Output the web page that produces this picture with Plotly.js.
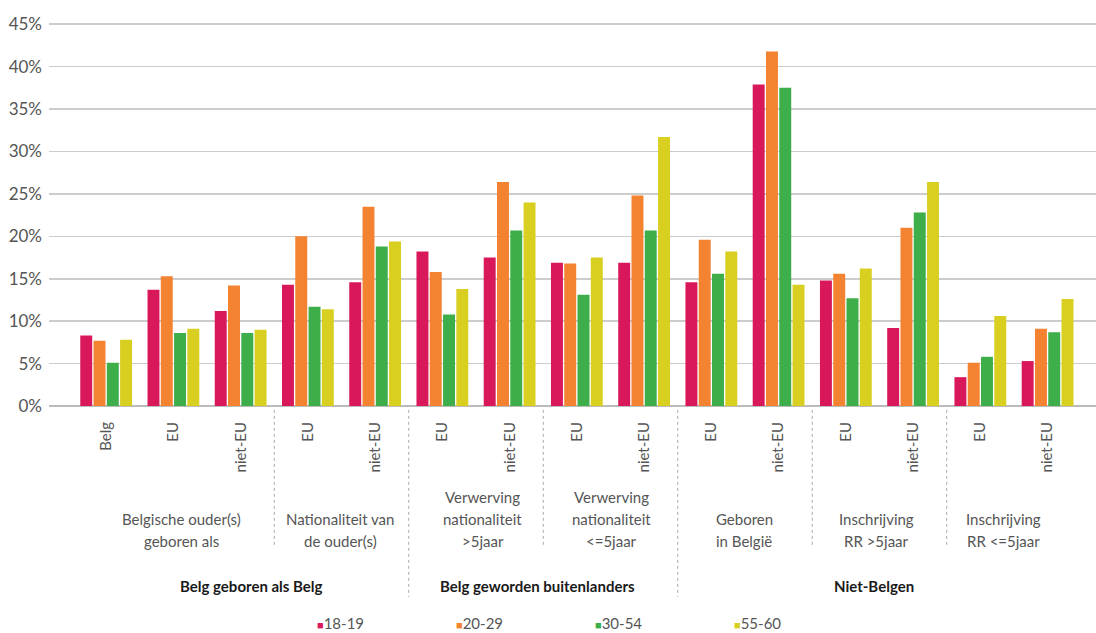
<!DOCTYPE html>
<html>
<head>
<meta charset="utf-8">
<script src="https://cdn.plot.ly/plotly-3.0.1.min.js"></script>
<style>html,body{margin:0;padding:0;background:#fff;}#chart{width:1096px;height:633px;}</style>
</head>
<body>
<div id="chart"></div>
<script>
// Sub-category (tick) labels, one per bar group
var subLabels = ['Belg','EU','niet-EU','EU','niet-EU','EU','niet-EU','EU','niet-EU','EU','niet-EU','EU','niet-EU','EU','niet-EU'];

// Series values (%)
var ageGroups = ['18-19','20-29','30-54','55-60'];
var s1819 = [8.3, 13.7, 11.2, 14.3, 14.6, 18.2, 17.5, 16.9, 16.9, 14.6, 37.9, 14.8, 9.2, 3.4, 5.3];
var s2029 = [7.7, 15.3, 14.2, 20.0, 23.5, 15.8, 26.4, 16.8, 24.8, 19.6, 41.8, 15.6, 21.0, 5.1, 9.1];
var s3054 = [5.1, 8.6, 8.6, 11.7, 18.8, 10.8, 20.7, 13.1, 20.7, 15.6, 37.5, 12.7, 22.8, 5.8, 8.7];
var s5560 = [7.8, 9.1, 9.0, 11.4, 19.4, 13.8, 24.0, 17.5, 31.7, 18.2, 14.3, 16.2, 26.4, 10.6, 12.6];

// Second-level labels
var midLabels = ['Belgische ouder(s)<br>geboren als','Nationaliteit van<br>de ouder(s)','Verwerving<br>nationaliteit<br>>5jaar','Verwerving<br>nationaliteit<br><=5jaar','Geboren<br>in België','Inschrijving<br>RR >5jaar','Inschrijving<br>RR <=5jaar'];
var midPos = [1.12, 3.48, 5.6, 7.52, 9.49, 11.46, 13.35];

// Top-level labels
var topLabels = ['Belg geboren als Belg','Belg geworden buitenlanders','Niet-Belgen'];
var topPos = [2.16, 6.41, 11.42];

// Separators (between groups)
var minorSeps = [2.5, 6.5, 10.5, 12.5];
var majorSeps = [4.5, 8.5];

var colors = ['#D9185C','#F38231','#3DAE49','#D8CF20'];
var series = [s1819, s2029, s3054, s5560];
var xs = subLabels.map(function(_, i){ return i; });

var traces = series.map(function(vals, k){
  return {
    type: 'bar',
    x: xs,
    y: vals,
    name: ageGroups[k],
    marker: {color: colors[k]},
    hoverinfo: 'y+name'
  };
});

var shapes = [];
minorSeps.forEach(function(p){
  shapes.push({type:'line', xref:'x', yref:'paper', x0:p, x1:p, y0:-0.01, y1:-0.36,
    line:{color:'#aaaaaa', width:1, dash:'dot'}});
});
majorSeps.forEach(function(p){
  shapes.push({type:'line', xref:'x', yref:'paper', x0:p, x1:p, y0:-0.01, y1:-0.495,
    line:{color:'#aaaaaa', width:1, dash:'dot'}});
});

var annotations = [];
// second-level labels, one annotation per line, bottom line aligned
var lineY = [-0.3497, -0.2927, -0.2358];
midLabels.forEach(function(t, i){
  var lines = t.split('<br>');
  lines.forEach(function(ln, j){
    var fromBottom = lines.length - 1 - j;
    annotations.push({text:ln, x:midPos[i], xref:'x', y:lineY[fromBottom], yref:'paper',
      xanchor:'center', yanchor:'middle', showarrow:false,
      font:{family:'Lato, sans-serif', size:15, color:'#555555'}});
  });
});
topLabels.forEach(function(t, i){
  annotations.push({text:'<b>'+t+'</b>', x:topPos[i], xref:'x', y:-0.466, yref:'paper',
    xanchor:'center', yanchor:'middle', showarrow:false,
    font:{family:'Lato, sans-serif', size:15, color:'#1a1a1a'}});
});
// legend
ageGroups.forEach(function(g, k){
  annotations.push({
    text:'<span style="color:' + colors[k] + ';font-size:11px">■</span>' + g,
    x: 0.255 + k*0.1328, xref:'paper', y:-0.5622, yref:'paper',
    xanchor:'left', yanchor:'middle', showarrow:false, borderpad:0,
    font:{family:'Lato, sans-serif', size:15, color:'#555555'}});
});

var layout = {
  width: 1096, height: 633,
  margin: {l:49, r:0, t:20, b:227, autoexpand:false},
  paper_bgcolor: '#ffffff', plot_bgcolor: '#ffffff',
  barmode: 'group', bargap: 0.21, bargroupgap: 0.1,
  font: {family:'Lato, sans-serif', color:'#555555'},
  xaxis: {
    range: [-0.85, 14.72], tickmode:'array', tickvals: xs, ticktext: subLabels,
    tickangle: -90, showgrid:false, zeroline:false, showline:false, ticks:'',
    ticklabelstandoff: 12, automargin:false,
    tickfont: {family:'Lato, sans-serif', size:15, color:'#555555'}
  },
  yaxis: {
    range: [0, 45.5], tickmode:'linear', tick0:0, dtick:5, ticksuffix:'%',
    showgrid:true, gridcolor:'#cccccc', gridwidth:1.5,
    zeroline:true, zerolinecolor:'#bbbbbb', zerolinewidth:1.5,
    showline:false, ticks:'', ticklabelstandoff: 6, automargin:false,
    tickfont: {family:'Lato, sans-serif', size:17, color:'#555555'}
  },
  showlegend: false,
  shapes: shapes,
  annotations: annotations
};

Plotly.newPlot('chart', traces, layout, {displayModeBar:false, staticPlot:true});
</script>
</body>
</html>
